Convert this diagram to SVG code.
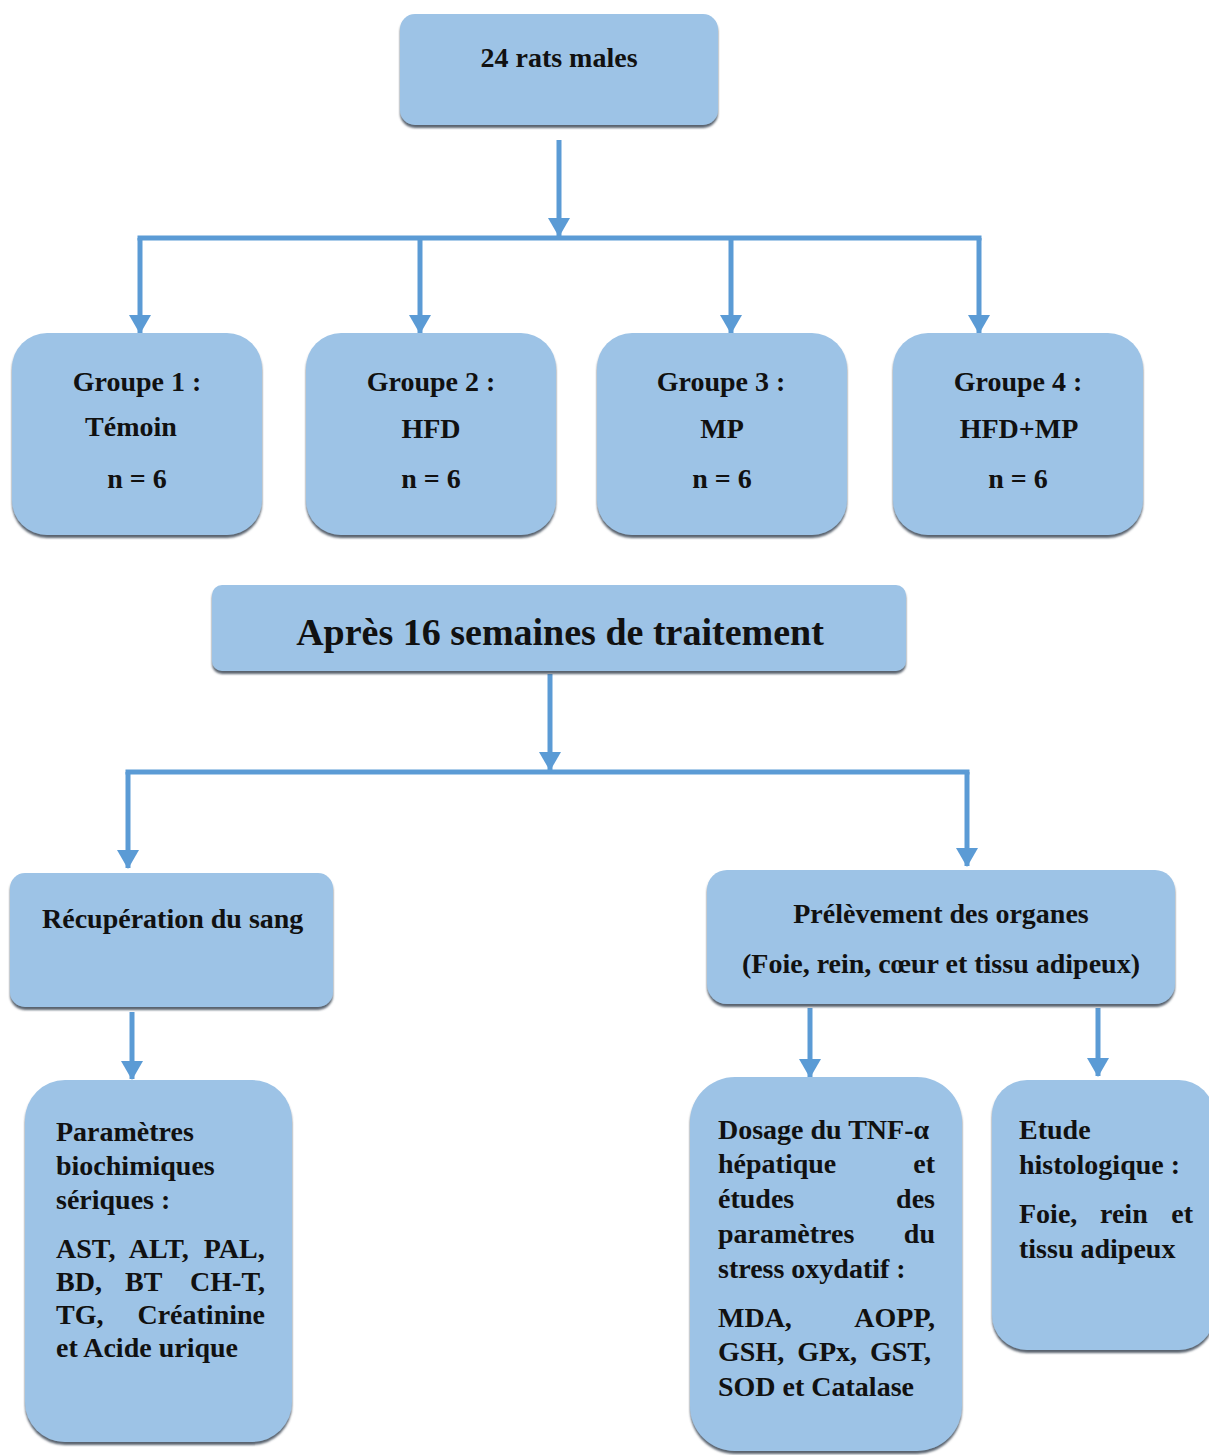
<svg xmlns="http://www.w3.org/2000/svg" width="1209" height="1455" viewBox="0 0 1209 1455">
<style>
.box{fill:#9dc3e6;filter:url(#sh);}
.t{font-family:"Liberation Serif","Times New Roman",serif;font-weight:bold;fill:#111;font-size:28px;}
.c{text-anchor:middle;}
.e{text-anchor:end;}
.con{fill:none;stroke:#5b9bd5;stroke-width:5;}
</style>
<defs>
<filter id="sh" x="-5%" y="-5%" width="110%" height="115%">
<feDropShadow dx="0" dy="3" stdDeviation="1.2" flood-color="#3d4654" flood-opacity="0.85"/>
</filter>
<marker id="ah" markerUnits="userSpaceOnUse" markerWidth="22" markerHeight="22" refX="18" refY="11" orient="auto" viewBox="0 0 19 22">
<polygon points="0,0 19,11 0,22" fill="#5b9bd5"/>
</marker>
</defs>

<g id="connectors">
<path class="con" d="M559,140 V236" marker-end="url(#ah)"/>
<path class="con" d="M137.5,238 H981.5"/>
<path class="con" d="M140,238 V333" marker-end="url(#ah)"/>
<path class="con" d="M420,238 V333" marker-end="url(#ah)"/>
<path class="con" d="M731,238 V333" marker-end="url(#ah)"/>
<path class="con" d="M979,238 V333" marker-end="url(#ah)"/>
<path class="con" d="M550,674 V770" marker-end="url(#ah)"/>
<path class="con" d="M125.5,772 H969.5"/>
<path class="con" d="M128,772 V868" marker-end="url(#ah)"/>
<path class="con" d="M967,772 V866" marker-end="url(#ah)"/>
<path class="con" d="M132,1012 V1079" marker-end="url(#ah)"/>
<path class="con" d="M810,1008 V1077" marker-end="url(#ah)"/>
<path class="con" d="M1098,1008 V1076" marker-end="url(#ah)"/>
</g>

<g id="n-rats">
<rect class="box" x="400" y="14" width="318" height="111" rx="15"/>
<text class="t c" x="559" y="67">24 rats males</text>
</g>

<g id="n-g1">
<rect class="box" x="12" y="333" width="250" height="202" rx="35"/>
<text class="t c" x="137" y="391">Groupe 1 :</text>
<text class="t c" x="131" y="436">Témoin</text>
<text class="t c" x="137" y="488">n = 6</text>
</g>

<g id="n-g2">
<rect class="box" x="306" y="333" width="250" height="202" rx="35"/>
<text class="t c" x="431" y="391">Groupe 2 :</text>
<text class="t c" x="431" y="438">HFD</text>
<text class="t c" x="431" y="488">n = 6</text>
</g>

<g id="n-g3">
<rect class="box" x="597" y="333" width="250" height="202" rx="35"/>
<text class="t c" x="721" y="391">Groupe 3 :</text>
<text class="t c" x="722" y="438">MP</text>
<text class="t c" x="722" y="488">n = 6</text>
</g>

<g id="n-g4">
<rect class="box" x="893" y="333" width="250" height="202" rx="35"/>
<text class="t c" x="1018" y="391">Groupe 4 :</text>
<text class="t c" x="1019" y="438">HFD+MP</text>
<text class="t c" x="1018" y="488">n = 6</text>
</g>

<g id="n-apres">
<rect class="box" x="212" y="585" width="694" height="86" rx="10"/>
<text class="t c" x="560" y="645" style="font-size:38px">Après 16 semaines de traitement</text>
</g>

<g id="n-sang">
<rect class="box" x="10" y="873" width="323" height="134" rx="15"/>
<text class="t" x="42" y="928">Récupération du sang</text>
</g>

<g id="n-organes">
<rect class="box" x="707" y="870" width="468" height="134" rx="20"/>
<text class="t c" x="941" y="923">Prélèvement des organes</text>
<text class="t c" x="941" y="973">(Foie, rein, cœur et tissu adipeux)</text>
</g>

<g id="n-param">
<rect class="box" x="25" y="1080" width="267" height="362" rx="40"/>
<text class="t" x="56" y="1141">Paramètres</text>
<text class="t" x="56" y="1175">biochimiques</text>
<text class="t" x="56" y="1209">sériques :</text>
<text class="t" x="56" y="1258" word-spacing="8">AST, ALT, PAL,</text>
<text class="t" x="56" y="1291">BD,</text>
<text class="t" x="125" y="1291">BT</text>
<text class="t e" x="265" y="1291">CH-T,</text>
<text class="t" x="56" y="1324">TG,</text>
<text class="t e" x="265" y="1324">Créatinine</text>
<text class="t" x="56" y="1357">et Acide urique</text>
</g>

<g id="n-dosage">
<rect class="box" x="690" y="1077" width="272" height="374" rx="45"/>
<text class="t" x="718" y="1139">Dosage du TNF-α</text>
<text class="t" x="718" y="1173">hépatique</text>
<text class="t e" x="935" y="1173">et</text>
<text class="t" x="718" y="1208">études</text>
<text class="t e" x="935" y="1208">des</text>
<text class="t" x="718" y="1243">paramètres</text>
<text class="t e" x="935" y="1243">du</text>
<text class="t" x="718" y="1278">stress oxydatif :</text>
<text class="t" x="718" y="1327">MDA,</text>
<text class="t e" x="935" y="1327">AOPP,</text>
<text class="t" x="718" y="1361" word-spacing="6">GSH, GPx, GST,</text>
<text class="t" x="718" y="1396">SOD et Catalase</text>
</g>

<g id="n-histo">
<rect class="box" x="992" y="1080" width="222" height="270" rx="35"/>
<text class="t" x="1019" y="1139">Etude</text>
<text class="t" x="1019" y="1174">histologique :</text>
<text class="t" x="1019" y="1223">Foie,</text>
<text class="t" x="1100" y="1223">rein</text>
<text class="t e" x="1193" y="1223">et</text>
<text class="t" x="1019" y="1258">tissu adipeux</text>
</g>
</svg>
